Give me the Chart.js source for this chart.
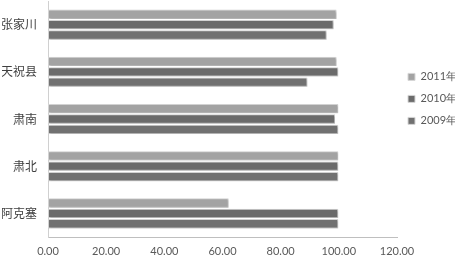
<!DOCTYPE html>
<html>
<head>
<meta charset="utf-8">
<script src="https://cdn.jsdelivr.net/npm/chart.js@4/dist/chart.umd.min.js"></script>
<style>
  html, body { margin: 0; padding: 0; background: #fff; }
  #wrap { width: 455px; height: 257px; }
</style>
</head>
<body>
<div id="wrap"><canvas id="barChart" width="455" height="257"></canvas></div>
<script>
// data
const categories = ['张家川', '天祝县', '肃南', '肃北', '阿克塞'];
const seriesNames = ['2011年', '2010年', '2009年'];
const values2011 = [99.2, 99.2, 99.8, 99.8, 62.1];
const values2010 = [98.2, 99.8, 98.7, 99.8, 99.8];
const values2009 = [95.8, 89.2, 99.8, 99.8, 99.8];
const tickValues = [0, 20, 40, 60, 80, 100, 120];

const barColors = ['#a3a3a3', '#6b6b6b', '#717171'];

// soft drop shadow under the bars
const barShadow = {
    id: 'barShadow',
    beforeDatasetsDraw(chart) {
        const ctx = chart.ctx;
        ctx.save();
        ctx.shadowColor = 'rgba(0,0,0,0.25)';
        ctx.shadowBlur = 2;
        ctx.shadowOffsetX = 1;
        ctx.shadowOffsetY = 1;
    },
    afterDatasetsDraw(chart) {
        chart.ctx.restore();
    }
};

// legend on the right is narrower than chart.js makes it
const legendWidth = {
    id: 'legendWidth',
    beforeLayout(chart) {
        const legend = chart.legend;
        if (!legend || legend._patched) return;
        const fit = legend.fit;
        legend.fit = function () {
            fit.call(this);
            this.width = 58;
        };
        legend._patched = true;
    }
};

document.addEventListener('DOMContentLoaded', () => {
    const ctx = document.getElementById('barChart').getContext('2d');
    new Chart(ctx, {
        type: 'bar',
        data: {
            labels: categories,
            datasets: [values2011, values2010, values2009].map((vals, i) => ({
                label: seriesNames[i],
                data: vals,
                backgroundColor: barColors[i],
                borderColor: '#d6d6d6',
                borderWidth: 1,
                borderSkipped: false,
                barPercentage: 0.9,
                categoryPercentage: 0.66
            }))
        },
        options: {
            indexAxis: 'y',
            responsive: false,
            animation: false,
            layout: { padding: { left: 2, top: 1, right: 0, bottom: 0 } },
            plugins: {
                tooltip: { enabled: false },
                legend: {
                    position: 'right',
                    align: 'start',
                    title: { display: true, text: '', padding: { top: 45, bottom: 0 } },
                    labels: {
                        boxWidth: 7,
                        boxHeight: 7,
                        padding: 11,
                        color: '#595959',
                        font: { family: 'Lato', size: 11 }
                    }
                }
            },
            scales: {
                x: {
                    min: 0,
                    max: 120,
                    afterBuildTicks: axis => { axis.ticks = tickValues.map(v => ({ value: v })); },
                    afterFit: axis => {
                        axis.height = 20;
                        axis.paddingLeft = 0;
                        axis.paddingRight = 0;
                    },
                    grid: { display: false, tickLength: 8 },
                    border: { color: '#bfbfbf' },
                    ticks: {
                        padding: 0,
                        color: '#595959',
                        font: { family: 'Lato', size: 11 },
                        callback: v => Number(v).toFixed(2)
                    }
                },
                y: {
                    afterFit: axis => {
                        axis.width = 46;
                        axis.paddingTop = 0;
                        axis.paddingBottom = 0;
                    },
                    grid: { display: false, tickLength: 8 },
                    border: { color: '#d0d0d0' },
                    ticks: {
                        padding: 3,
                        color: '#404040',
                        font: { family: 'Noto Sans CJK SC', size: 12 }
                    }
                }
            }
        },
        plugins: [barShadow, legendWidth]
    });
});
</script>
</body>
</html>
